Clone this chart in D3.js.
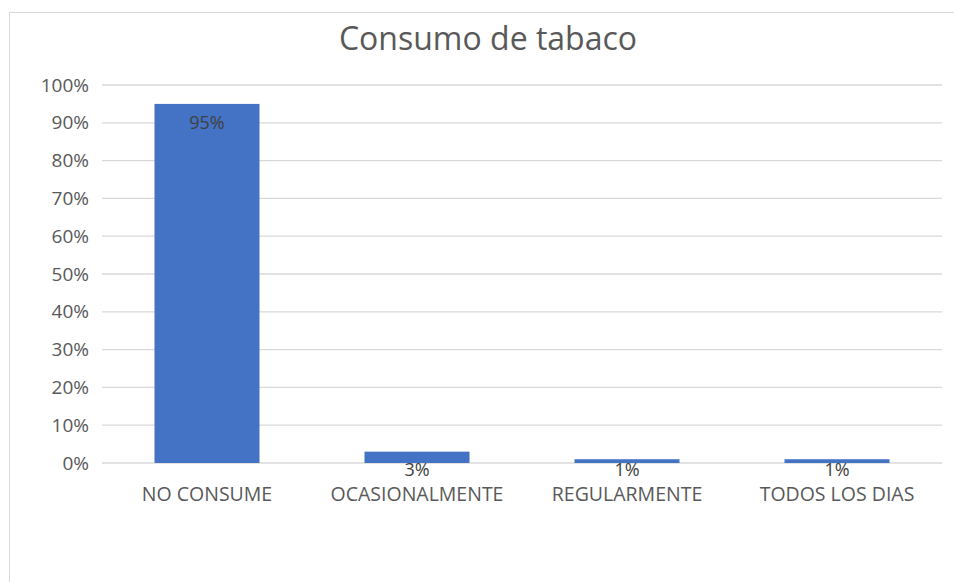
<!DOCTYPE html>
<html lang="es">
<head>
<meta charset="UTF-8">
<title>Consumo de tabaco</title>
<script src="https://d3js.org/d3.v7.min.js"></script>
<style>
  body { margin: 0; background: #fff; font-family: "Open Sans", sans-serif; }
  text { fill: #595959; }
</style>
</head>
<body>
<script>
  // data
  const categories = ["NO CONSUME", "OCASIONALMENTE", "REGULARMENTE", "TODOS LOS DIAS"];
  const values = [0.95, 0.03, 0.01, 0.01];
  const yTicks = [0, 0.1, 0.2, 0.3, 0.4, 0.5, 0.6, 0.7, 0.8, 0.9, 1.0];

  const W = 954, H = 582;
  const plot = {left: 102, right: 942, top: 85, bottom: 463};

  const svg = d3.select("body").append("svg")
      .attr("width", W)
      .attr("height", H);

  // chart frame
  svg.append("rect")
      .attr("x", 9.5).attr("y", 12.5)
      .attr("width", W).attr("height", H)
      .attr("fill", "#fff")
      .attr("stroke", "#d9d9d9");

  const x = d3.scaleBand().domain(categories).range([plot.left, plot.right]).paddingInner(0.5).paddingOuter(0.25);
  const y = d3.scaleLinear().domain([0, 1]).range([plot.bottom, plot.top]);

  // gridlines
  svg.append("g")
    .selectAll("line")
    .data(yTicks)
    .join("line")
      .attr("x1", plot.left).attr("x2", plot.right)
      .attr("y1", d => y(d)).attr("y2", d => y(d))
      .attr("stroke", "#d9d9d9")
      .attr("stroke-width", 1.3);

  // y axis labels
  const yAxis = svg.append("g")
      .attr("transform", `translate(${plot.left - 13},0)`)
      .call(d3.axisLeft(y).tickValues(yTicks).tickFormat(d3.format(".0%")).tickSize(0).tickPadding(0));
  yAxis.select(".domain").remove();
  yAxis.selectAll("text")
      .attr("fill", "#595959")
      .style("font-size", "19px")
      .style("font-family", "'Open Sans', sans-serif");

  // bars
  svg.append("g")
    .selectAll("rect")
    .data(values)
    .join("rect")
      .attr("x", (d, i) => x(categories[i]))
      .attr("y", d => y(d))
      .attr("width", x.bandwidth())
      .attr("height", d => y(0) - y(d))
      .attr("fill", "#4472c4");

  // value labels (small bars get theirs just under the bar)
  svg.append("g")
    .selectAll("text")
    .data(values)
    .join("text")
      .attr("x", (d, i) => x(categories[i]) + x.bandwidth() / 2)
      .attr("y", d => d > 0.1 ? y(d) + 25 : y(0) + 13)
      .attr("text-anchor", "middle")
      .style("font-size", "18px")
      .style("fill", "#404040")
      .text(d => d3.format(".0%")(d));

  // category labels
  const xAxis = svg.append("g")
      .attr("transform", `translate(0,${plot.bottom})`)
      .call(d3.axisBottom(x).tickSize(0).tickPadding(24));
  xAxis.select(".domain").remove();
  xAxis.selectAll("text")
      .attr("fill", "#595959")
      .style("font-size", "19.5px")
      .style("font-family", "'Open Sans', sans-serif");

  // title
  svg.append("text")
      .attr("x", 488)
      .attr("y", 50)
      .attr("text-anchor", "middle")
      .style("font-size", "32px")
      .text("Consumo de tabaco");
</script>
</body>
</html>
